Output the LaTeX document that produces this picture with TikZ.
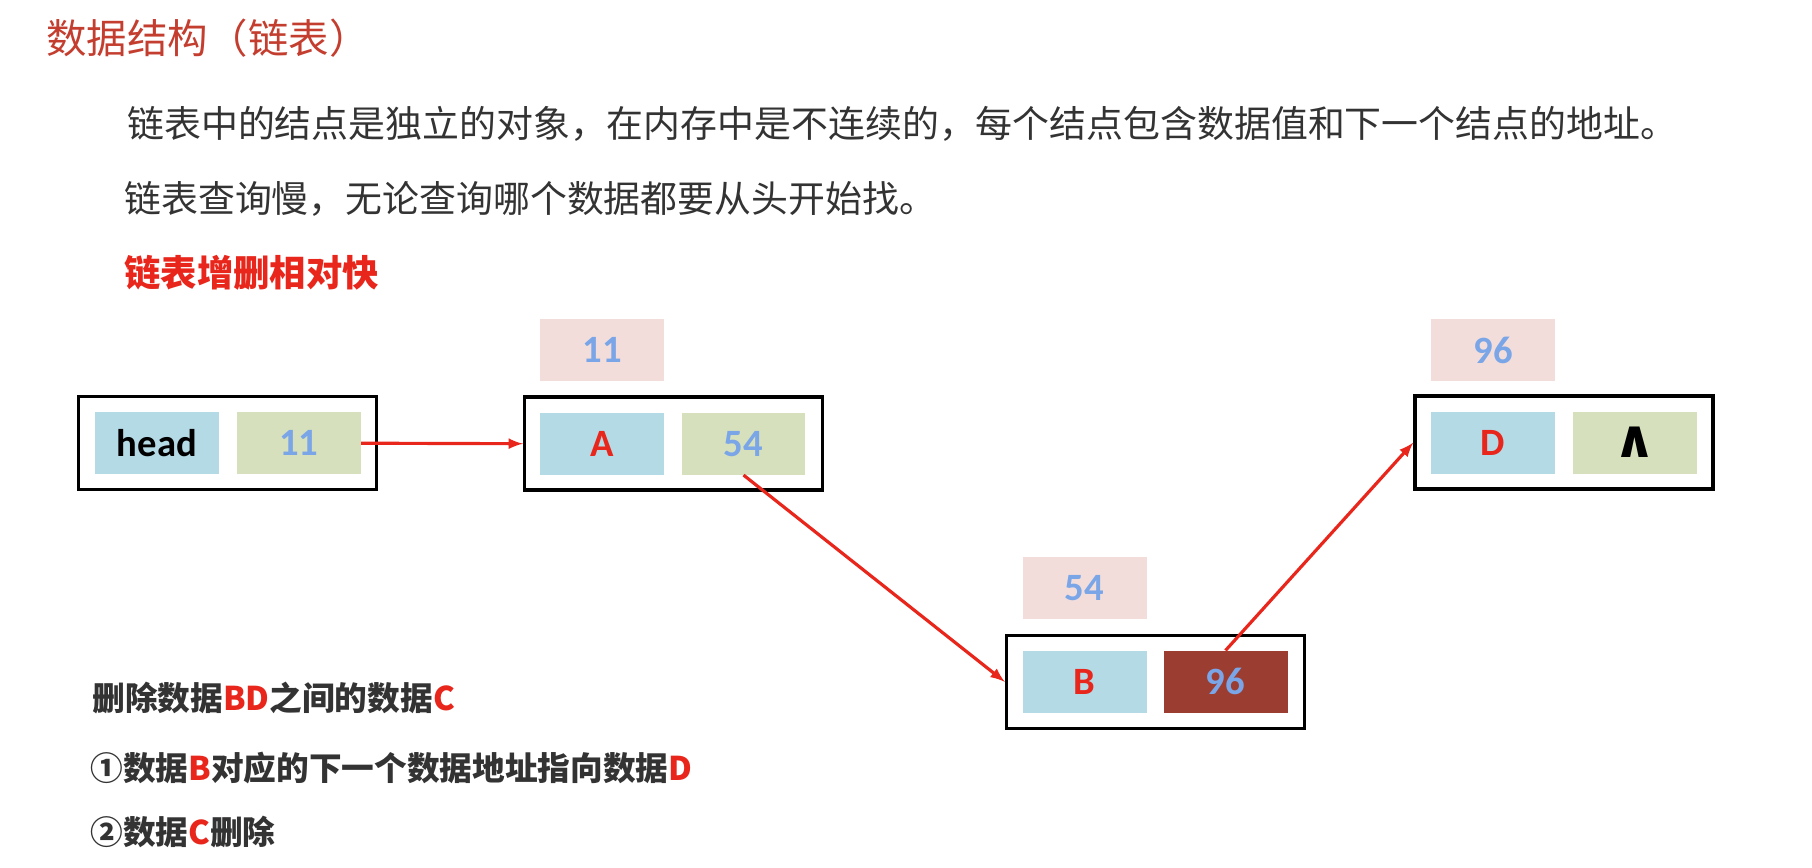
\documentclass[tikz,border=0pt]{standalone}
\usepackage{fontspec}
\setmainfont{Carlito}
\newfontfamily\cjk{Noto Sans CJK SC}
\newfontfamily\symfont{DejaVu Sans}
\definecolor{boxblue}{RGB}{180,218,230}
\definecolor{boxgreen}{RGB}{214,224,188}
\definecolor{boxpink}{RGB}{242,221,218}
\definecolor{boxbrown}{RGB}{155,61,48}
\definecolor{numblue}{RGB}{122,166,232}
\definecolor{letterred}{RGB}{232,38,27}
\definecolor{titlered}{RGB}{196,62,48}
\definecolor{textgray}{RGB}{51,51,51}

\begin{document}
\begin{tikzpicture}[x=0.02cm, y=-0.02cm,
    outer/.style={draw=black, line width=2pt, minimum width=5.96cm, minimum height=1.86cm, inner sep=0pt},
    cell/.style={minimum width=2.48cm, minimum height=1.24cm, inner sep=0pt, font=\fontsize{22}{24}\selectfont\bfseries},
    txt/.style={anchor=west, inner sep=0pt, text=textgray, font=\cjk\fontsize{21}{25}\selectfont},
    note/.style={anchor=west, inner sep=0pt, text=textgray, font=\cjk\fontsize{18.6}{23}\selectfont\bfseries},
    link/.style={-latex, draw=letterred, line width=1.8pt}]
    \useasboundingbox (0,0) rectangle (1812,867);

    % Heading and text
    \node[txt, text=titlered, font=\cjk\fontsize{23}{27}\selectfont] (title) at (46,38) {数据结构（链表）};
    \node[txt] (line1) at (127,124) {链表中的结点是独立的对象，在内存中是不连续的，每个结点包含数据值和下一个结点的地址。};
    \node[txt] (line2) at (124,199) {链表查询慢，无论查询哪个数据都要从头开始找。};
    \node[txt, text=letterred, font=\cjk\fontsize{20.7}{24}\selectfont\bfseries] (line3) at (124,273) {链表增删相对快};

    % head
    \node[outer] (head) at (227.6,443.2) {};
    \node[cell, fill=boxblue] (headval) at (157,443.2) {head};
    \node[cell, fill=boxgreen, text=numblue] (headnext) at (298.8,443.2) {11};

    % node A
    \node[cell, fill=boxpink, text=numblue] (addrA) at (602,350) {11};
    \node[outer] (nodeA) at (673.7,443.7) {};
    \node[cell, fill=boxblue, text=letterred] (valA) at (602,443.7) {A};
    \node[cell, fill=boxgreen, text=numblue] (nextA) at (743.5,443.7) {54};

    % node B
    \node[cell, fill=boxpink, text=numblue] (addrB) at (1084.5,588) {54};
    \node[outer] (nodeB) at (1155.5,681.8) {};
    \node[cell, fill=boxblue, text=letterred] (valB) at (1084.5,681.8) {B};
    \node[cell, fill=boxbrown, text=numblue] (nextB) at (1225.5,681.8) {96};

    % node D
    \node[cell, fill=boxpink, text=numblue] (addrD) at (1493,350) {96};
    \node[outer] (nodeD) at (1564,442.6) {};
    \node[cell, fill=boxblue, text=letterred] (valD) at (1493,442.6) {D};
    \node[cell, fill=boxgreen, font=\symfont\fontsize{30}{32}\selectfont\bfseries] (nextD) at (1634.6,442.6) {∧};

    % Links
    \draw[link] (headnext.east) -- (nodeA.west);
    \draw[link] (nextA.south) -- (nodeB.west);
    \draw[link] (nextB.north) -- (nodeD.west);

    % Delete steps
    \node[note] (del) at (92,698) {删除数据\textcolor{letterred}{BD}之间的数据\textcolor{letterred}{C}};
    \node[note] (step1) at (90,768) {①数据\textcolor{letterred}{B}对应的下一个数据地址指向数据\textcolor{letterred}{D}};
    \node[note] (step2) at (90,832) {②数据\textcolor{letterred}{C}删除};
\end{tikzpicture}
\end{document}
